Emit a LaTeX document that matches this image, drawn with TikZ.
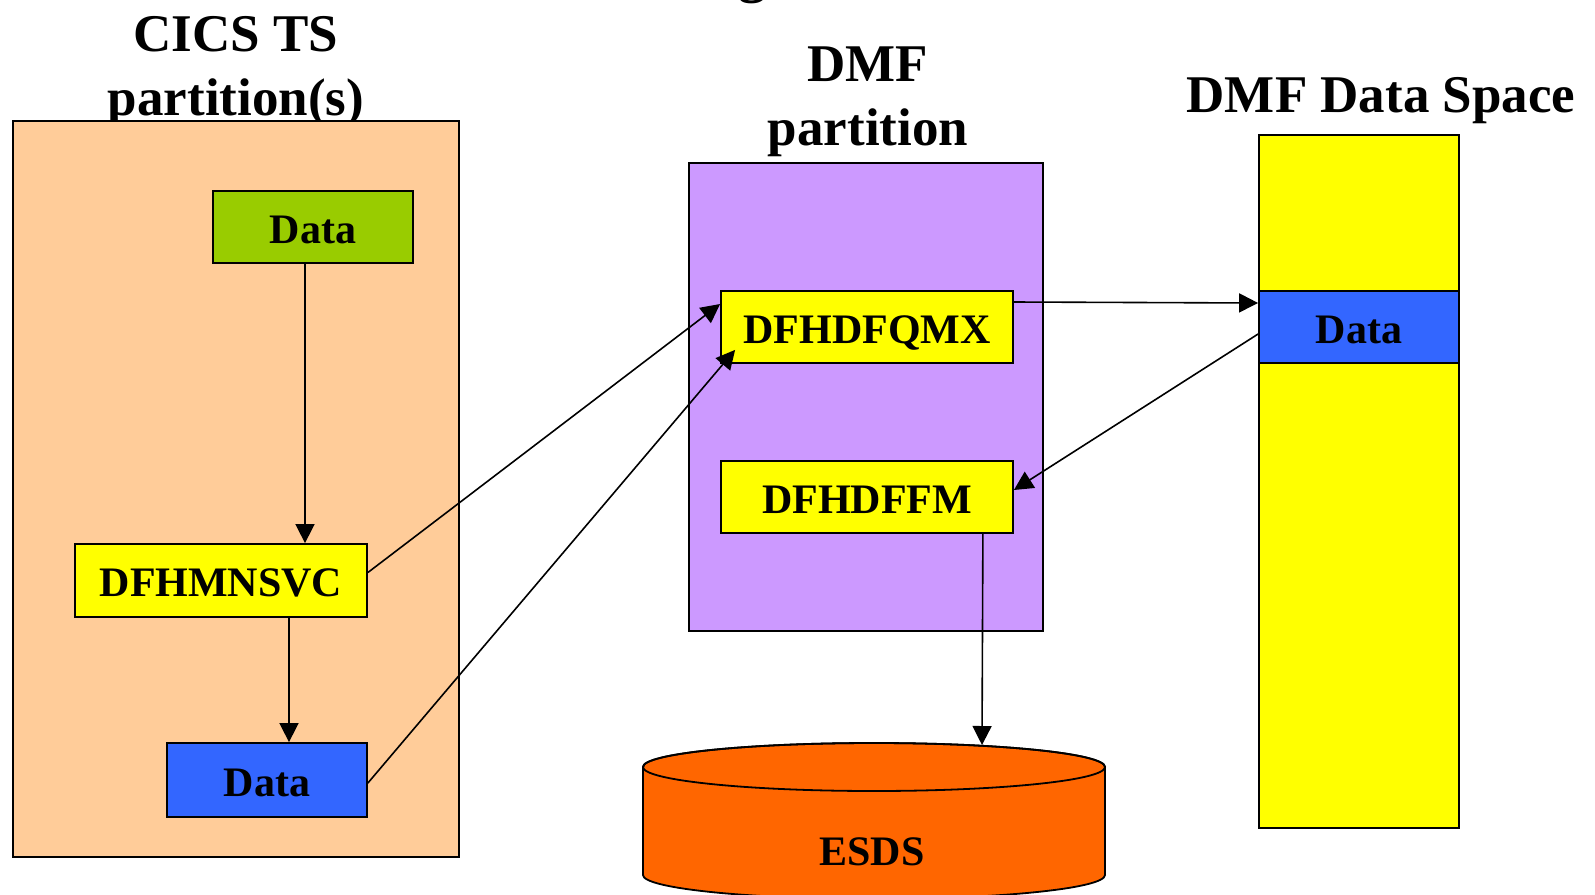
\documentclass[tikz,border=0pt]{standalone}
\usepackage{fontspec}
\setmainfont{Liberation Serif}
\usepackage{xcolor}
\usepackage{tikz}
\usetikzlibrary{positioning,arrows.meta}

\definecolor{cicspeach}{HTML}{FFCC99}
\definecolor{dmfpurple}{HTML}{CC99FF}
\definecolor{datagreen}{HTML}{99CC00}
\definecolor{datablue}{HTML}{3366FF}
\definecolor{pgmyellow}{HTML}{FFFF00}
\definecolor{esdsorange}{HTML}{FF6600}

\begin{document}
\begin{tikzpicture}[x=1pt, y=-1pt, >={Triangle[length=19pt,width=19pt]},
    area/.style={draw, rectangle, line width=1.8pt, inner sep=0pt},
    box/.style={area, text height=32pt, text depth=0pt, font=\fontsize{42}{50}\selectfont\bfseries},
    title/.style={align=center, anchor=base, font=\fontsize{53}{64}\selectfont\bfseries},
    link/.style={->, line width=1.6pt}]
    \useasboundingbox (0,0) rectangle (1595,894);
    \fill[white] (0,0) rectangle (1595,894);
    \clip (0,0) rectangle (1595,894);

    \node [title, font=\fontsize{56}{64}\selectfont\bfseries] (cut) at (752,-9) {g};
    \node [title] (cicsT) at (236,115) {CICS TS\\partition(s)};
    \node [title] (dmfT) at (868,145) {DMF\\partition};
    \node [title] (spaceT) at (1381,112) {DMF Data Space};

    \node [area, fill=cicspeach, minimum width=446pt, minimum height=736pt] (cics) at (236,489) {};
    \node [area, fill=dmfpurple, minimum width=354pt, minimum height=468pt] (dmf) at (866,397) {};
    \node [area, fill=pgmyellow, minimum width=200pt, minimum height=693pt] (space) at (1359,481.5) {};

    \node [box, fill=datagreen, minimum width=200pt, minimum height=72pt] (dataA) at (313,227) {Data};
    \node [box, fill=pgmyellow, minimum width=292pt, minimum height=73pt] (svc) at (221,580.5) {DFHMNSVC};
    \node [box, fill=datablue, minimum width=200pt, minimum height=74pt] (dataB) at (267,780) {Data};
    \node [box, fill=pgmyellow, minimum width=292pt, minimum height=72pt] (qmx) at (867,327) {DFHDFQMX};
    \node [box, fill=pgmyellow, minimum width=292pt, minimum height=72pt] (ffm) at (867,497) {DFHDFFM};
    \node [box, fill=datablue, minimum width=200pt, minimum height=72pt] (spaceD) at (1359,327) {Data};

    % ESDS cylinder
    \filldraw [fill=esdsorange, line width=1.8pt] (643,767) -- (643,875)
        arc[start angle=180, end angle=0, x radius=231, y radius=24] -- (1105,767)
        arc[start angle=0, end angle=-180, x radius=231, y radius=24] -- cycle;
    \draw [line width=1.8pt] (874,767) ellipse[x radius=231, y radius=24];
    \node [font=\fontsize{42}{50}\selectfont\bfseries] (esds) at (872,852) {ESDS};
    \coordinate (esdsIn) at (982,745);

    \draw [link] ([xshift=-8pt]dataA.south) -- ([xshift=-8pt]dataA.south |- svc.north);
    \draw [link] ([xshift=22pt]dataB.north |- svc.south) -- ([xshift=22pt]dataB.north);
    \draw [link] ([yshift=8pt]svc.east) -- ([yshift=23pt]qmx.west);
    \draw [link] ([yshift=-3pt]dataB.east) -- ([shift={(15pt,14pt)}]qmx.south west);
    \draw [link] ([yshift=25pt]qmx.east) -- ([yshift=24pt]spaceD.west);
    \draw [link] ([yshift=-7pt]spaceD.west) -- ([yshift=7pt]ffm.east);
    \draw [link] ([xshift=-31pt]ffm.south east) -- (esdsIn);
\end{tikzpicture}
\end{document}
